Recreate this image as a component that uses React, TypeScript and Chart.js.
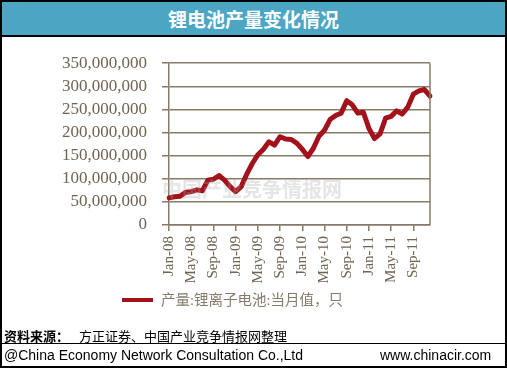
import React, { useEffect, useRef } from "react";
import { Chart, registerables } from "chart.js";

Chart.register(...registerables);

const TITLE = "锂电池产量变化情况";
const SERIES_NAME = "产量:锂离子电池:当月值，只";

const months: string[] = [
  "Jan-08", "Feb-08", "Mar-08", "Apr-08", "May-08", "Jun-08", "Jul-08", "Aug-08", "Sep-08", "Oct-08", "Nov-08", "Dec-08",
  "Jan-09", "Feb-09", "Mar-09", "Apr-09", "May-09", "Jun-09", "Jul-09", "Aug-09", "Sep-09", "Oct-09", "Nov-09", "Dec-09",
  "Jan-10", "Feb-10", "Mar-10", "Apr-10", "May-10", "Jun-10", "Jul-10", "Aug-10", "Sep-10", "Oct-10", "Nov-10", "Dec-10",
  "Jan-11", "Feb-11", "Mar-11", "Apr-11", "May-11", "Jun-11", "Jul-11", "Aug-11", "Sep-11", "Oct-11", "Nov-11", "Dec-11",
];

const output: number[] = [
  58700000, 61000000, 62000000, 71000000, 72000000, 76000000, 74000000, 97000000, 99000000, 107000000, 97000000, 83000000,
  72000000, 83000000, 110000000, 133000000, 152000000, 164000000, 180000000, 173000000, 191000000, 186000000, 185000000, 177000000,
  164000000, 148000000, 166000000, 192000000, 205000000, 228000000, 237000000, 242000000, 269000000, 260000000, 242000000, 244000000,
  209000000, 187000000, 197000000, 231000000, 235000000, 247000000, 240000000, 255000000, 283000000, 290000000, 293000000, 279000000,
];

const yMin = 0;
const yMax = 350000000;
const yStep = 50000000;

const AXIS_COLOR = "#857b69";
const TEXT_COLOR = "#6f6553";
const LINE_COLOR = "#a3121a";

const frameRight = {
  id: "frameRight",
  afterDraw(chart: any) {
    const { ctx, chartArea } = chart;
    ctx.save();
    ctx.strokeStyle = AXIS_COLOR;
    ctx.lineWidth = 1.5;
    ctx.beginPath();
    ctx.moveTo(chartArea.right, chartArea.top);
    ctx.lineTo(chartArea.right, chartArea.bottom);
    ctx.stroke();
    ctx.restore();
  },
};

function LineChart() {
  const ref = useRef<HTMLCanvasElement | null>(null);
  useEffect(() => {
    if (!ref.current) return;
    const chart = new Chart(ref.current, {
      type: "line",
      data: {
        labels: months,
        datasets: [
          {
            label: SERIES_NAME,
            data: output,
            borderColor: LINE_COLOR,
            backgroundColor: LINE_COLOR,
            borderWidth: 5,
            pointRadius: 0,
            tension: 0,
            borderJoinStyle: "round",
            borderCapStyle: "round",
          },
        ],
      },
      plugins: [frameRight],
      options: {
        animation: false,
        responsive: true,
        maintainAspectRatio: false,
        layout: { padding: { top: 22, left: 0, right: 77, bottom: 15 } },
        plugins: { legend: { display: false }, tooltip: { enabled: false } },
        scales: {
          x: {
            type: "category",
            offset: false,
            grid: {
              display: true,
              drawOnChartArea: false,
              drawTicks: true,
              tickLength: 6,
              color: AXIS_COLOR,
              lineWidth: 1.5,
            },
            border: { display: true, color: AXIS_COLOR, width: 1.5 },
            ticks: {
              autoSkip: false,
              minRotation: 90,
              maxRotation: 90,
              padding: 5,
              color: TEXT_COLOR,
              font: { family: "'Liberation Serif', 'Times New Roman', serif", size: 15 },
              callback: (_v: any, i: number) => (i % 4 === 0 ? months[i] : null),
            },
            afterFit: (scale: any) => {
              scale.height = 60;
            },
          },
          y: {
            min: yMin,
            max: yMax,
            grid: {
              display: true,
              drawOnChartArea: true,
              drawTicks: true,
              tickLength: 7,
              color: AXIS_COLOR,
              lineWidth: 1.5,
            },
            border: { display: true, color: AXIS_COLOR, width: 1.5 },
            ticks: {
              stepSize: yStep,
              autoSkip: false,
              padding: 15,
              color: TEXT_COLOR,
              font: { family: "'Liberation Serif', 'Times New Roman', serif", size: 17 },
              callback: (v: any) => Number(v).toLocaleString("en-US"),
            },
            afterFit: (scale: any) => {
              scale.width = 169;
            },
          },
        },
      },
    });
    return () => chart.destroy();
  }, []);
  return <canvas ref={ref} />;
}

export default function App() {
  return (
    <div
      style={{
        position: "fixed",
        left: 0,
        top: 0,
        width: 507,
        height: 368,
        boxSizing: "border-box",
        border: "2px solid #000",
        background: "#fff",
        overflow: "hidden",
        fontFamily: "'Noto Sans CJK SC', sans-serif",
      }}
    >
      <div
        style={{
          position: "absolute",
          left: 0,
          top: 0,
          width: 503,
          height: 33,
          background: "#4ba6c4",
          borderBottom: "2px solid #000",
          color: "#fff",
          fontWeight: 700,
          fontSize: 19,
          lineHeight: "33px",
          textAlign: "center",
          fontFamily: "'Noto Sans CJK SC', sans-serif",
        }}
      >
        {TITLE}
      </div>
      <div style={{ position: "absolute", left: -2, top: 36, width: 507, height: 262 }}>
        <LineChart />
      </div>
      <div
        style={{
          position: "absolute",
          left: 160,
          top: 172,
          fontSize: 20,
          fontWeight: 700,
          color: "rgba(170,170,170,0.3)",
          whiteSpace: "nowrap",
          pointerEvents: "none",
        }}
      >
        中国产业竞争情报网
      </div>
      <div
        style={{
          position: "absolute",
          left: 120,
          top: 296,
          width: 31,
          height: 4,
          background: LINE_COLOR,
        }}
      />
      <div
        style={{
          position: "absolute",
          left: 159,
          top: 288,
          fontSize: 14.5,
          lineHeight: "20px",
          color: "#857c6c",
          whiteSpace: "nowrap",
          fontFamily: "'Liberation Serif', 'Noto Sans CJK SC', serif",
        }}
      >
        {SERIES_NAME}
      </div>
      <div
        style={{
          position: "absolute",
          left: 2,
          top: 325,
          fontSize: 13,
          lineHeight: "18px",
          color: "#000",
          whiteSpace: "nowrap",
        }}
      >
        <span style={{ fontWeight: 700 }}>资料来源：</span>
        <span style={{ marginLeft: 10 }}>方正证券、中国产业竞争情报网整理</span>
      </div>
      <div
        style={{
          position: "absolute",
          left: 0,
          top: 341,
          width: 503,
          height: 0,
          borderTop: "1.5px solid #000",
        }}
      />
      <div
        style={{
          position: "absolute",
          left: 2,
          top: 344,
          fontSize: 14,
          lineHeight: "18px",
          color: "#000",
          whiteSpace: "nowrap",
          fontFamily: "'Liberation Sans', Arial, sans-serif",
        }}
      >
        @China Economy Network Consultation Co.,Ltd
      </div>
      <div
        style={{
          position: "absolute",
          left: 378,
          top: 344,
          fontSize: 14,
          lineHeight: "18px",
          color: "#000",
          whiteSpace: "nowrap",
          fontFamily: "'Liberation Sans', Arial, sans-serif",
        }}
      >
        www.chinacir.com
      </div>
    </div>
  );
}
